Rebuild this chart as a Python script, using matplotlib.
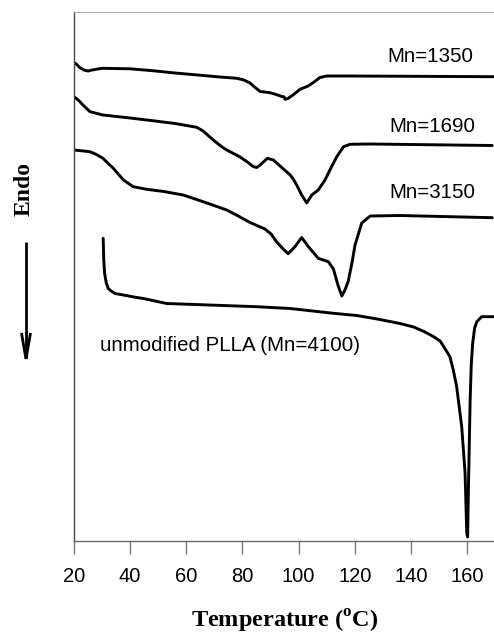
import matplotlib
matplotlib.use("Agg")
import matplotlib.pyplot as plt
from matplotlib.lines import Line2D

plt.rcParams['font.family'] = ['Liberation Sans', 'DejaVu Sans']
plt.rcParams['mathtext.fontset'] = 'custom'
plt.rcParams['mathtext.rm'] = 'Liberation Serif:bold'
plt.rcParams['mathtext.bf'] = 'Liberation Serif:bold'

# ---- data (temperature in degC, heat flow in arbitrary units, endo down) ----
t_1350 = [20, 21, 22, 23.5, 25, 27, 30, 40, 48, 56, 64, 72, 78, 80.5, 82.7, 84.5, 86.3,
          89.8, 92, 94, 94.8, 95.2, 96.2, 98, 100.5, 103.4, 105.5, 107.6, 110, 118, 169.6]
h_1350 = [478.5, 476.5, 473.5, 471, 470, 471.3, 472.7, 472.2, 470.3, 468, 466, 464, 462.7, 461, 458,
          453.5, 449.5, 448.3, 446.5, 444.5, 444.2, 441.7, 442.5, 446, 451.7, 455, 459, 463.5, 465,
          465, 464.3]

t_1690 = [20, 21.5, 23, 25.7, 30.3, 40, 48, 56, 63.7, 66, 68, 69.6, 72.6, 74.4, 79, 82, 83.9, 85.1,
          86.5, 88.9, 91, 94.6, 97, 98.1, 99.5, 101.1, 102.9, 104.7, 107, 109.4, 111.5, 113.6,
          116, 118.3, 125, 169]
h_1690 = [444.3, 441, 436.5, 429.3, 426, 423, 420.3, 417.5, 413.7, 410, 405, 401, 394.3, 391, 384.3,
          378.5, 374.3, 373.5, 376.5, 382.7, 381, 372, 366, 362, 355, 346, 338, 346, 351, 361, 373,
          384.3, 394.3, 396.7, 397, 395.5]

t_3150 = [20, 25.7, 28, 30.3, 34, 37.6, 41.1, 45.9, 52, 58.9, 66, 74.4, 78.5, 82.7, 88, 90.2, 92.2,
          94.5, 96.3, 98.7, 101.1, 103.5, 107, 110.6, 112.4, 114, 115.4, 116.5, 117.7, 119, 120.1,
          122.5, 125.5, 136, 169]
h_3150 = [391, 389.3, 386.5, 382.7, 372.7, 361, 354.3, 351.7, 349.5, 346, 339.3, 331, 325, 318.5, 312,
          307, 299, 292, 287.3, 294.3, 303.5, 294.3, 282.7, 279.3, 272, 256, 245, 251, 260, 278, 296,
          318, 325, 325.5, 323.3]

t_4100 = [30.4, 30.6, 30.9, 31.5, 32.2, 33, 34.6, 37.6, 42.3, 44.7, 53, 85, 97, 112.4, 120.7, 128,
          136.1, 141, 145, 148, 150.4, 152, 153.9, 155.1, 156.3, 157.2, 158.1, 159.3, 159.9, 160.2,
          160.5, 161.1, 161.5, 162, 162.7, 163.5, 165.2, 169.6]
h_4100 = [302.7, 281, 267.7, 258, 252.5, 250.5, 247.5, 246, 243.5, 242.5, 237.5, 234.3, 232.5, 227.7,
          225.5, 222, 217.5, 214, 209, 204.5, 200, 193, 184.3, 171, 154.3, 134.3, 114.3, 67.7, 7.7, 4,
          54.3, 141, 176, 197.7, 213, 219.3, 224.3, 224.3]

xticks = [20, 40, 60, 80, 100, 120, 140, 160]
labels = ['Mn=1350', 'Mn=1690', 'Mn=3150', 'unmodified PLLA (Mn=4100)']

W, H = 494, 634
fig = plt.figure(figsize=(W / 100, H / 100), dpi=100)
ax = fig.add_axes([74 / W, 1 - 541 / H, (W - 74) / W, (541 - 12) / H])

for t, h in [(t_1350, h_1350), (t_1690, h_1690), (t_3150, h_3150), (t_4100, h_4100)]:
    ax.plot(t, h, color='black', lw=2.1, solid_joinstyle='round', solid_capstyle='round')

ax.set_xlim(20, 169.6)
ax.set_ylim(0, 529)
ax.set_yticks([])
ax.set_xticks(xticks)
ax.set_xticklabels([str(v) for v in xticks])
ax.tick_params(axis='x', direction='out', length=9, width=1.0, color='#777777',
               labelsize=14.5, pad=10, labelcolor='black')

ax.spines['right'].set_visible(False)
ax.spines['left'].set_color('#444444')
ax.spines['left'].set_linewidth(1.0)
ax.spines['bottom'].set_color('#666666')
ax.spines['bottom'].set_linewidth(1.0)
ax.spines['top'].set_color('#aaaaaa')
ax.spines['top'].set_linewidth(0.8)

fs = 14.8
ax.text(162.1, 484, labels[0], ha='right', va='center', fontsize=fs)
ax.text(162.9, 415, labels[1], ha='right', va='center', fontsize=fs)
ax.text(162.9, 349, labels[2], ha='right', va='center', fontsize=fs)
ax.text(29.3, 195.3, labels[3], ha='left', va='center', fontsize=fs)

# axis title and "Endo" annotation
fig.text(285 / W, 1 - 621 / H, r'Temperature ($^{\mathrm{o}}$C)', ha='center', va='center',
         fontsize=17.5, fontweight='bold', family='Liberation Serif')
fig.text(24 / W, 1 - 189 / H, 'Endo', rotation=90, ha='center', va='center',
         fontsize=17, fontweight='bold', family='Liberation Serif')

def fx(px):
    return px / W

def fy(py):
    return 1 - py / H

for (x0, y0, x1, y1) in [(26, 242, 26, 358), (21.5, 333, 26, 359), (30.5, 333, 26, 359)]:
    fig.add_artist(Line2D([fx(x0), fx(x1)], [fy(y0), fy(y1)], color='black', lw=2.0,
                          transform=fig.transFigure, solid_capstyle='butt'))

fig.savefig('out.png', dpi=100)
